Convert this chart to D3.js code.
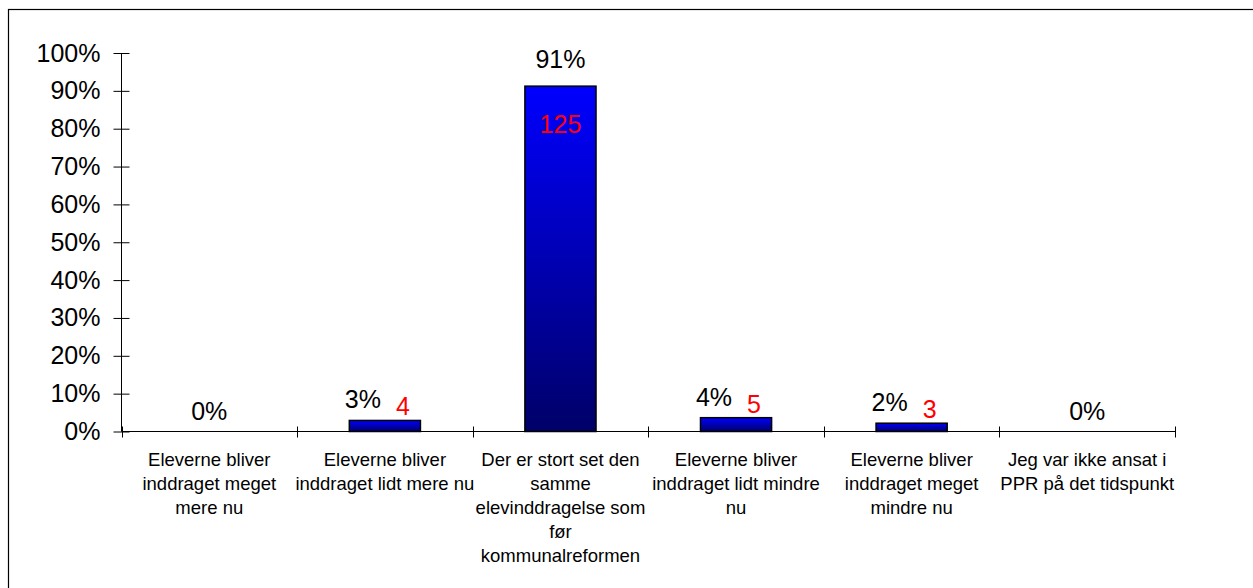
<!DOCTYPE html>
<html lang="da">
<head>
<meta charset="utf-8">
<title>Elevinddragelse</title>
<script src="https://cdn.jsdelivr.net/npm/d3@7/dist/d3.min.js"></script>
<style>
  body { margin: 0; background: #fff; }
  svg text { font-family: Arial, "Liberation Sans", sans-serif; }
</style>
</head>
<body>
<div id="chart"></div>
<script>
// answer categories, one array of lines per category
const categories = [
  ["Eleverne bliver", "inddraget meget", "mere nu"],
  ["Eleverne bliver", "inddraget lidt mere nu"],
  ["Der er stort set den", "samme", "elevinddragelse som", "før", "kommunalreformen"],
  ["Eleverne bliver", "inddraget lidt mindre", "nu"],
  ["Eleverne bliver", "inddraget meget", "mindre nu"],
  ["Jeg var ikke ansat i", "PPR på det tidspunkt"]
];
// number of answers per category
const counts = [0, 4, 125, 5, 3, 0];
const yTicks = [0, 0.1, 0.2, 0.3, 0.4, 0.5, 0.6, 0.7, 0.8, 0.9, 1];

const w = 1253, h = 588;
const total = d3.sum(counts);
const shares = counts.map(c => c / total);

const svg = d3.select("#chart").append("svg")
  .attr("width", w)
  .attr("height", h);

// outer frame
svg.append("rect")
  .attr("x", 8.5).attr("y", 9.5)
  .attr("width", 1300).attr("height", 600)
  .attr("fill", "none")
  .attr("stroke", "#000")
  .attr("stroke-width", 1.2);

const defs = svg.append("defs");
const grad = defs.append("linearGradient")
  .attr("id", "barGrad")
  .attr("x1", 0).attr("y1", 0).attr("x2", 0).attr("y2", 1);
grad.append("stop").attr("offset", "0%").attr("stop-color", "#0000ff");
grad.append("stop").attr("offset", "100%").attr("stop-color", "#000068");

const x = d3.scaleBand()
  .domain(d3.range(categories.length))
  .range([121.5, 1175])
  .paddingInner(0)
  .paddingOuter(0);

const y = d3.scaleLinear()
  .domain([0, 1])
  .range([431.5, 53]);

// y axis, ticks cross the line
const yAxis = svg.append("g")
  .attr("transform", "translate(121.5,0)")
  .call(d3.axisLeft(y).tickValues(yTicks).tickFormat(d3.format(".0%")).tickSize(8).tickPadding(13));
yAxis.select(".domain").attr("stroke", "#000").attr("d", `M0,${y(1)}V${y(0)}`);
yAxis.selectAll(".tick line").attr("x1", 8).attr("x2", -8).attr("stroke", "#000");
yAxis.selectAll(".tick text")
  .attr("fill", "#000")
  .style("font-size", "25px");

// x axis with boundary ticks
const xg = svg.append("g");
xg.append("line")
  .attr("x1", x.range()[0]).attr("x2", x.range()[1])
  .attr("y1", y(0)).attr("y2", y(0))
  .attr("stroke", "#000");
const bounds = d3.range(categories.length + 1).map(i => i === categories.length ? x.range()[1] : x(i));
xg.selectAll(".xtick")
  .data(bounds)
  .enter()
  .append("line")
    .attr("class", "xtick")
    .attr("x1", d => Math.round(d) + 0.5).attr("x2", d => Math.round(d) + 0.5)
    .attr("y1", y(0) - 5).attr("y2", y(0) + 6)
    .attr("stroke", "#000");

// bars
const barW = x.bandwidth() * 0.405;
svg.selectAll(".bar")
  .data(shares.map((s, i) => ({ s, i })).filter(d => d.s > 0))
  .enter()
  .append("rect")
    .attr("class", "bar")
    .attr("x", d => x(d.i) + x.bandwidth() / 2 - barW / 2)
    .attr("y", d => y(d.s))
    .attr("width", barW)
    .attr("height", d => y(0) - y(d.s))
    .attr("fill", "url(#barGrad)")
    .attr("stroke", "#000")
    .attr("stroke-width", 1.5);

// labels
const cx = i => x(i) + x.bandwidth() / 2;
const inside = s => y(0) - y(s) > 60;

svg.selectAll(".pct")
  .data(shares)
  .enter()
  .append("text")
    .attr("class", "pct")
    .attr("x", (s, i) => (counts[i] > 0 && !inside(s)) ? cx(i) - 22 : cx(i))
    .attr("y", s => inside(s) ? y(s) - 18 : y(s) - 12)
    .attr("text-anchor", "middle")
    .style("font-size", "25px")
    .attr("fill", "#000")
    .text(s => d3.format(".0%")(s));

svg.selectAll(".cnt")
  .data(counts.map((c, i) => ({ c, i, s: shares[i] })).filter(d => d.c > 0))
  .enter()
  .append("text")
    .attr("class", "cnt")
    .attr("x", d => inside(d.s) ? cx(d.i) : cx(d.i) + 18)
    .attr("y", d => inside(d.s) ? y(d.s) + 47 : y(d.s) - 5)
    .attr("text-anchor", "middle")
    .style("font-size", "25px")
    .attr("fill", "#ff0000")
    .text(d => d.c);

// category labels
const catG = svg.selectAll(".cat")
  .data(categories)
  .enter()
  .append("text")
    .attr("class", "cat")
    .attr("text-anchor", "middle")
    .style("font-size", "18.5px")
    .attr("fill", "#000");
catG.selectAll("tspan")
  .data((lines, i) => lines.map(l => ({ l, i })))
  .enter()
  .append("tspan")
    .attr("x", d => cx(d.i))
    .attr("y", (d, j) => 466 + j * 24)
    .text(d => d.l);
</script>
</body>
</html>
